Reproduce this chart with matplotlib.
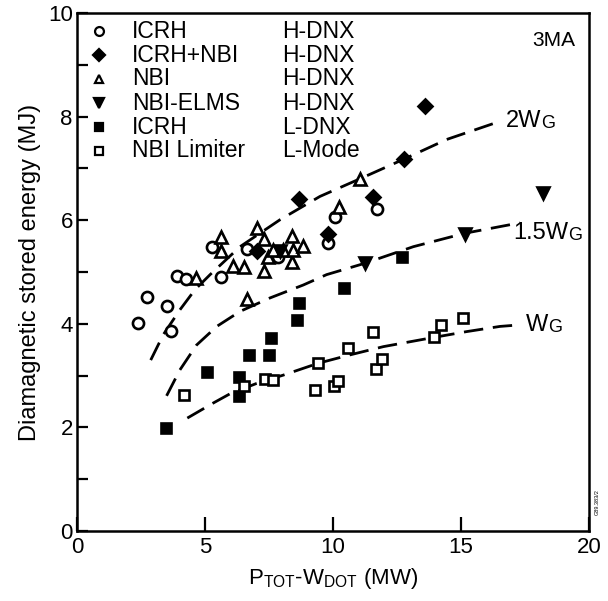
import matplotlib
matplotlib.use("Agg")
import matplotlib.pyplot as plt
from matplotlib.ticker import MultipleLocator

plt.rcParams["font.family"] = ["Liberation Sans", "DejaVu Sans"]
plt.rcParams["mathtext.fontset"] = "custom"
plt.rcParams["mathtext.rm"] = "Liberation Sans"

# ICRH, H-DNX (open circles)
icrh_h_x = [2.37, 2.72, 3.50, 3.67, 3.92, 4.26, 5.26, 5.61, 6.65, 7.84, 9.82, 10.08, 11.71]
icrh_h_y = [4.01, 4.52, 4.35, 3.87, 4.93, 4.86, 5.48, 4.90, 5.45, 5.29, 5.56, 6.06, 6.22]

# ICRH+NBI, H-DNX (filled diamonds)
icrh_nbi_x = [7.04, 8.67, 9.79, 11.55, 12.77, 13.60]
icrh_nbi_y = [5.41, 6.41, 5.73, 6.45, 7.18, 8.20]

# NBI, H-DNX (open triangles)
nbi_h_x = [4.65, 5.61, 5.63, 6.11, 6.52, 6.65, 7.02, 7.30, 7.30, 7.47, 7.67,
           8.06, 8.39, 8.39, 8.45, 8.84, 10.25, 11.05]
nbi_h_y = [4.88, 5.41, 5.67, 5.12, 5.09, 4.48, 5.85, 5.64, 5.02, 5.29, 5.43,
           5.43, 5.69, 5.20, 5.43, 5.51, 6.25, 6.80]

# NBI-ELMS, H-DNX (filled inverted triangles)
nbi_elms_x = [7.93, 11.25, 15.16, 18.22]
nbi_elms_y = [5.40, 5.17, 5.74, 6.52]

# ICRH, L-DNX (filled squares)
icrh_l_x = [3.46, 5.09, 6.33, 6.34, 6.73, 7.51, 7.58, 8.61, 8.68, 10.43, 12.68]
icrh_l_y = [1.98, 3.07, 2.97, 2.61, 3.40, 3.40, 3.72, 4.08, 4.40, 4.69, 5.30]

# NBI Limiter, L-Mode (open squares)
nbi_lim_x = [4.19, 6.54, 7.34, 7.64, 9.30, 9.43, 10.04, 10.21, 10.57, 11.57,
             11.68, 11.90, 13.96, 14.22, 15.09]
nbi_lim_y = [2.63, 2.80, 2.93, 2.92, 2.72, 3.24, 2.80, 2.90, 3.54, 3.85,
             3.13, 3.32, 3.74, 3.98, 4.12]

# reference curves
w2_x = [2.88, 3.37, 4.02, 4.61, 5.20, 6.37, 7.93, 9.49, 11.05, 12.77, 14.44, 16.52]
w2_y = [3.30, 3.79, 4.27, 4.66, 4.95, 5.49, 6.01, 6.46, 6.80, 7.18, 7.56, 7.91]
w15_x = [3.50, 4.02, 4.67, 5.46, 6.37, 7.54, 8.84, 9.75, 11.25, 13.14, 15.16, 17.30]
w15_y = [2.61, 3.11, 3.59, 3.95, 4.24, 4.50, 4.75, 4.95, 5.17, 5.49, 5.75, 5.95]
w1_x = [4.31, 5.32, 5.98, 7.02, 8.06, 9.43, 10.66, 11.97, 13.96, 15.22, 16.52, 17.30]
w1_y = [2.18, 2.47, 2.65, 2.85, 3.01, 3.24, 3.40, 3.56, 3.74, 3.85, 3.95, 3.98]

series = [
    (icrh_h_x, icrh_h_y, "o", False, 8.0, "ICRH", "H-DNX"),
    (icrh_nbi_x, icrh_nbi_y, "D", True, 7.5, "ICRH+NBI", "H-DNX"),
    (nbi_h_x, nbi_h_y, "^", False, 8.0, "NBI", "H-DNX"),
    (nbi_elms_x, nbi_elms_y, "v", True, 8.5, "NBI-ELMS", "H-DNX"),
    (icrh_l_x, icrh_l_y, "s", True, 7.5, "ICRH", "L-DNX"),
    (nbi_lim_x, nbi_lim_y, "s", False, 7.5, "NBI Limiter", "L-Mode"),
]

curves = [
    (w2_x, w2_y, "2W", (16.75, 7.91)),
    (w15_x, w15_y, "1.5W", (17.05, 5.76)),
    (w1_x, w1_y, "W", (17.55, 3.97)),
]

fig = plt.figure(figsize=(6.08, 6.01), dpi=100)
ax = fig.add_axes([0.1266, 0.1165, 0.8422, 0.8617])

for cx, cy, lab, pos in curves:
    ax.plot(cx, cy, color="black", lw=2.0, dashes=(7, 3.5), zorder=2)
    t = ax.text(pos[0], pos[1], lab, fontsize=17, ha="left", va="center")
    ax.annotate("G", xy=(1, 0), xycoords=t, fontsize=13, ha="left", va="bottom")

for sx, sy, m, filled, ms, lab1, lab2 in series:
    face = "black" if filled else "white"
    ax.plot(sx, sy, ls="none", marker=m, ms=ms, mfc=face, mec="black",
            mew=1.9, zorder=3)

# legend block in the upper left corner
row_y = [0.965, 0.919, 0.873, 0.826, 0.780, 0.734]
for (sx, sy, m, filled, ms, lab1, lab2), yy in zip(series, row_y):
    face = "black" if filled else "white"
    ax.plot([0.043], [yy], transform=ax.transAxes, ls="none", marker=m,
            ms=ms * 0.8, mfc=face, mec="black", mew=1.6, clip_on=False)
    ax.text(0.107, yy, lab1, transform=ax.transAxes, fontsize=16.5,
            ha="left", va="center")
    ax.text(0.40, yy, lab2, transform=ax.transAxes, fontsize=16.5,
            ha="left", va="center")

ax.text(0.89, 0.948, "3MA", transform=ax.transAxes, fontsize=15,
        ha="left", va="center")

ax.set_xlim(0, 20)
ax.set_ylim(0, 10)
ax.xaxis.set_major_locator(MultipleLocator(5))
ax.yaxis.set_major_locator(MultipleLocator(2))
ax.yaxis.set_minor_locator(MultipleLocator(1))
ax.tick_params(which="both", direction="in", width=1.6, labelsize=16,
               top=False, right=False)
ax.tick_params(axis="x", which="major", length=10, pad=4)
ax.tick_params(axis="y", which="both", length=8, pad=3)
for sp in ax.spines.values():
    sp.set_linewidth(1.8)

ax.set_xlabel(r"P$_{\mathrm{TOT}}$-W$_{\mathrm{DOT}}$ (MW)", fontsize=16, labelpad=6)
ax.set_ylabel("Diamagnetic stored energy (MJ)", fontsize=17, labelpad=5)

fig.text(0.982, 0.165, "G89.383/2", rotation=90, fontsize=4, ha="center",
         va="center")

fig.savefig("out.png", dpi=100)
